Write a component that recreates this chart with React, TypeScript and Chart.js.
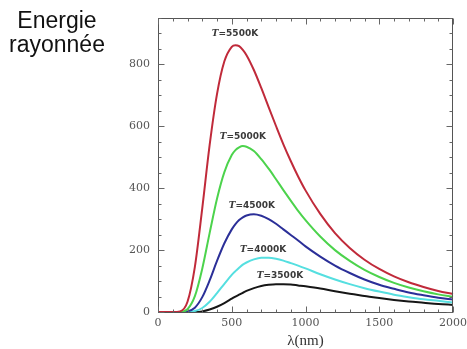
import { useEffect, useRef } from "react";
import { Chart, registerables } from "chart.js";

Chart.register(...registerables);

// Wavelength (nm)
const wavelengths = [0, 100, 150, 200, 250, 300, 350, 400, 450, 500, 525, 550, 575, 600, 650, 700, 750, 800, 850, 900, 950, 1000, 1100, 1200, 1300, 1400, 1500, 1600, 1700, 1800, 1900, 2000];

// Radiated energy for each temperature
const energy5500 = [0, 0, 2, 33, 146, 335, 539, 704, 810, 857, 862, 859, 847, 830, 782, 724, 662, 601, 542, 488, 438, 393, 317, 255, 207, 169, 139, 115, 96, 81, 68, 58];
const energy5000 = [0, 0, 0, 9, 51, 140, 255, 366, 452, 507, 523, 532, 536, 534, 520, 494, 463, 429, 394, 360, 327, 297, 244, 200, 165, 136, 113, 94, 79, 67, 57, 49];
const energy4500 = [0, 0, 0, 2, 14, 48, 102, 165, 222, 267, 284, 297, 306, 312, 316, 311, 300, 285, 267, 249, 231, 212, 179, 150, 126, 105, 88, 75, 63, 54, 46, 40];
const energy4000 = [0, 0, 0, 0, 3, 13, 33, 61, 91, 120, 132, 143, 153, 160, 170, 175, 175, 172, 166, 158, 150, 141, 122, 105, 90, 77, 66, 56, 48, 41, 36, 31];
const energy3500 = [0, 0, 0, 0, 0, 2, 8, 17, 29, 43, 50, 56, 62, 68, 77, 84, 88, 90, 90, 89, 86, 83, 76, 67, 59, 52, 45, 39, 34, 30, 26, 23];

const temperatureNames = ["5500K", "5000K", "4500K", "4000K", "3500K"];
// Where each curve label sits (data space: wavelength, energy)
const labelWavelengths = [522, 576, 637, 712, 827];
const labelEnergies = [900, 565, 345, 203, 119];

const xTickValues = [0, 500, 1000, 1500, 2000];
const yTickValues = [0, 200, 400, 600, 800];
const xMax = 2000;
const yMax = 950;

const seriesColors = ["#c02a3a", "#4cd34c", "#2b2f98", "#55dfe0", "#161616"];

const decorPlugin = {
  id: "decor",
  afterDatasetsDraw(chart: any) {
    const { ctx, chartArea: a, scales } = chart;
    const x = scales.x;
    const y = scales.y;
    ctx.save();
    // curve labels
    ctx.fillStyle = "#3a3a3a";
    ctx.textBaseline = "middle";
    ctx.textAlign = "left";
    temperatureNames.forEach((name: string, i: number) => {
      const px = x.getPixelForValue(labelWavelengths[i]);
      const py = y.getPixelForValue(labelEnergies[i]);
      const fT = "italic bold 9px 'DejaVu Serif'";
      const fR = "bold 9px 'DejaVu Sans'";
      ctx.font = fT;
      const w1 = ctx.measureText("T").width;
      ctx.font = fR;
      const rest = "=" + name;
      const w2 = ctx.measureText(rest).width;
      const start = px - (w1 + w2) / 2;
      ctx.font = fT;
      ctx.fillText("T", start, py);
      ctx.font = fR;
      ctx.fillText(rest, start + w1, py);
    });
    // frame
    ctx.strokeStyle = "#555";
    ctx.lineWidth = 1;
    const L = Math.round(a.left) + 0.5;
    const R = Math.round(a.right) - 0.5;
    const T = Math.round(a.top) + 0.5;
    const B = Math.round(a.bottom) + 0.5;
    ctx.strokeRect(L, T, R - L, B - T);
    // inward ticks
    ctx.strokeStyle = "#666";
    ctx.beginPath();
    for (let v = 0; v <= xMax; v += 100) {
      const px = Math.round(x.getPixelForValue(v)) + 0.5;
      const len = v % 500 === 0 ? 6 : 3;
      ctx.moveTo(px, B);
      ctx.lineTo(px, B - len);
      ctx.moveTo(px, T);
      ctx.lineTo(px, T + len);
    }
    for (let v = 0; v <= yMax; v += 50) {
      const py = Math.round(y.getPixelForValue(v)) + 0.5;
      const len = v % 200 === 0 ? 6 : 3;
      ctx.moveTo(L, py);
      ctx.lineTo(L + len, py);
      ctx.moveTo(R, py);
      ctx.lineTo(R - len, py);
    }
    ctx.stroke();
    ctx.restore();
  },
};

export default function App() {
  const canvasRef = useRef<HTMLCanvasElement | null>(null);

  useEffect(() => {
    const canvas = canvasRef.current;
    if (!canvas) return;
    const allSeries = [energy5500, energy5000, energy4500, energy4000, energy3500];
    const chart = new Chart(canvas, {
      type: "line",
      data: {
        labels: wavelengths,
        datasets: allSeries.map((series, i) => ({
          label: "T=" + temperatureNames[i],
          data: series.map((v, j) => ({ x: wavelengths[j], y: v })),
          borderColor: seriesColors[i],
          backgroundColor: seriesColors[i],
          borderWidth: 2,
          pointRadius: 0,
          fill: false,
          clip: 4,
          cubicInterpolationMode: "monotone" as const,
        })),
      },
      options: {
        responsive: false,
        animation: false,
        events: [],
        layout: { padding: { left: 0, top: 18, right: 14, bottom: 0 } },
        plugins: { legend: { display: false }, tooltip: { enabled: false } },
        scales: {
          x: {
            type: "linear",
            min: 0,
            max: xMax,
            grid: { display: false, drawTicks: false },
            border: { display: false },
            afterBuildTicks: (s: any) => {
              s.ticks = xTickValues.map((v) => ({ value: v }));
            },
            afterFit: (s: any) => {
              s.height = 37;
              s.paddingLeft = 0;
              s.paddingRight = 0;
            },
            ticks: {
              padding: 5,
              autoSkip: false,
              maxRotation: 0,
              color: "#555",
              font: { family: "'DejaVu Serif'", size: 11 },
              callback: (v: any) => String(v),
            },
            title: {
              display: true,
              text: "λ(nm)",
              color: "#333",
              font: { family: "'Liberation Serif'", size: 15, lineHeight: 1 },
              padding: { top: 0, bottom: 0 },
            },
          },
          y: {
            type: "linear",
            min: 0,
            max: yMax,
            grid: { display: false, drawTicks: false },
            border: { display: false },
            afterBuildTicks: (s: any) => {
              s.ticks = yTickValues.map((v) => ({ value: v }));
            },
            afterFit: (s: any) => {
              s.width = 158;
              s.paddingTop = 0;
              s.paddingBottom = 0;
            },
            ticks: {
              padding: 8,
              color: "#555",
              font: { family: "'DejaVu Serif'", size: 11 },
              callback: (v: any) => String(v),
            },
          },
        },
      },
      plugins: [decorPlugin],
    });
    return () => chart.destroy();
  }, []);

  return (
    <div style={{ position: "fixed", left: 0, top: 0, width: 467, height: 349, background: "#fff" }}>
      <canvas ref={canvasRef} width={467} height={349} style={{ position: "absolute", left: 0, top: 0, width: 467, height: 349 }} />
      <div
        style={{
          position: "absolute",
          left: 0,
          top: 8,
          width: 114,
          textAlign: "center",
          fontFamily: "'Liberation Sans', Arial, sans-serif",
          fontSize: 23,
          lineHeight: "24px",
          color: "#111",
        }}
      >
        Energie
        <br />
        rayonnée
      </div>
    </div>
  );
}
